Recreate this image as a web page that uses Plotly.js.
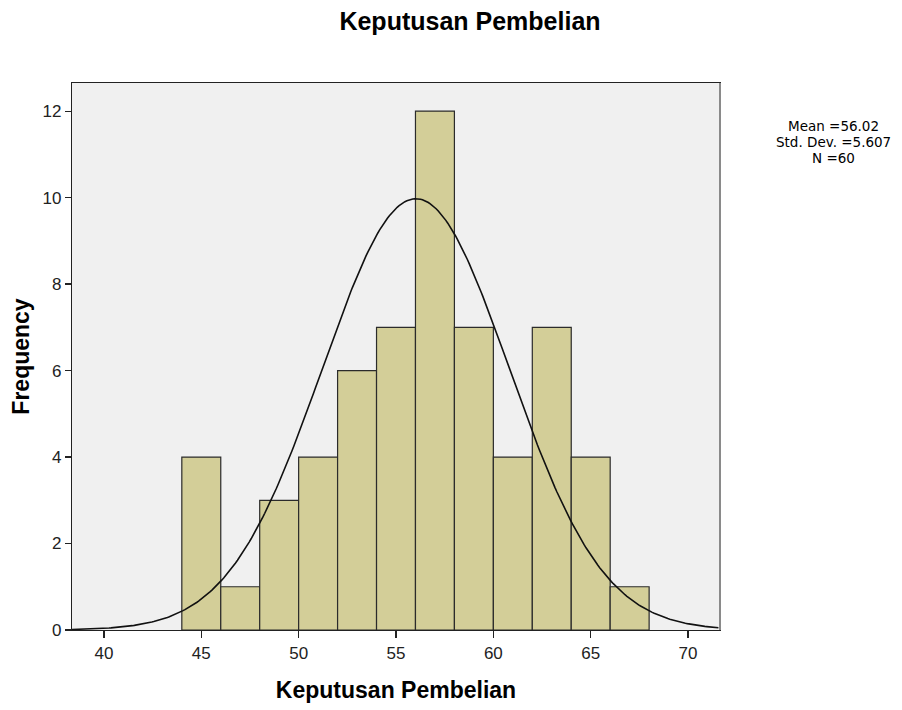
<!DOCTYPE html>
<html>
<head>
<meta charset="utf-8">
<script src="https://cdn.plot.ly/plotly-3.0.1.min.js"></script>
<style>html,body{margin:0;padding:0;background:#fff;}#chart{width:902px;height:710px;}</style>
</head>
<body>
<div id="chart"></div>
<script>
// Histogram bins (start of each bin, width 2) and frequencies
var binStarts = [44, 46, 48, 50, 52, 54, 56, 58, 60, 62, 64, 66];
var counts    = [4, 1, 3, 4, 6, 7, 12, 7, 4, 7, 4, 1];
var binWidth = 2;
// Statistics printed beside the chart
var statMean = 56.02;
var statSd = 5.607;
var statN = 60;
// Normal curve as drawn in the reference (peak ~10 at the mean)
var curveMean = 56.02;
var curveSd = 4.8;
var xTicks = [40, 45, 50, 55, 60, 65, 70];
var yTicks = [0, 2, 4, 6, 8, 10, 12];

var barX = binStarts.map(function (s) { return s + binWidth / 2; });

var curveX = [], curveY = [];
for (var x = 38.36; x <= 71.64; x += 0.1) {
  curveX.push(x);
  var z = (x - curveMean) / curveSd;
  curveY.push(statN * binWidth * Math.exp(-0.5 * z * z) / (curveSd * Math.sqrt(2 * Math.PI)));
}

var font = "Arial, 'Liberation Sans', sans-serif";
var statFont = "'DejaVu Sans', Arial, sans-serif";

var traces = [
  {
    type: 'bar', x: barX, y: counts, width: binWidth,
    marker: { color: '#D3CE98', line: { color: '#2b2b2b', width: 1.2 } },
    hoverinfo: 'x+y'
  },
  {
    type: 'scatter', mode: 'lines', x: curveX, y: curveY,
    line: { color: '#111111', width: 1.6 }, hoverinfo: 'skip'
  }
];

var plotW = 902 - 72 - 182, plotH = 710 - 83 - 80;

var statLines = [
  'Mean =' + statMean.toFixed(2),
  'Std. Dev. =' + statSd.toFixed(3),
  'N =' + statN
];
var statY = [126, 142, 158];
var annotations = statLines.map(function (t, i) {
  return {
    xref: 'paper', yref: 'paper',
    x: (834 - 72) / plotW, y: 1 - (statY[i] - 83) / plotH,
    text: t, showarrow: false, xanchor: 'center', yanchor: 'middle',
    borderpad: 0,
    font: { family: statFont, size: 13.5, color: '#000' }
  };
});

var layout = {
  width: 902, height: 710,
  margin: { l: 72, r: 182, t: 83, b: 80 },
  paper_bgcolor: '#ffffff',
  plot_bgcolor: '#F0F0F0',
  showlegend: false,
  bargap: 0,
  font: { family: font, color: '#000', size: 16 },
  title: {
    text: '<b>Keputusan Pembelian</b>',
    font: { family: font, size: 25, color: '#000' },
    x: 470 / 902, xref: 'container', xanchor: 'center',
    y: 1 - 21 / 710, yref: 'container', yanchor: 'middle'
  },
  xaxis: {
    range: [38.36, 71.64], tickvals: xTicks, ticktext: xTicks.map(String),
    ticks: 'outside', ticklen: 7, tickwidth: 1.2, tickcolor: '#222',
    showline: true, linecolor: '#222', linewidth: 1.2, mirror: true,
    showgrid: false, zeroline: false,
    tickfont: { family: font, size: 17, color: '#222' },
    title: { text: '<b>Keputusan Pembelian</b>', font: { family: font, size: 23, color: '#000' }, standoff: 20 }
  },
  yaxis: {
    range: [0, 12.65], tickvals: yTicks, ticktext: yTicks.map(String),
    ticks: 'outside', ticklen: 6, tickwidth: 1.2, tickcolor: '#222',
    showline: true, linecolor: '#222', linewidth: 1.2, mirror: true,
    showgrid: false, zeroline: false,
    tickfont: { family: font, size: 17, color: '#222' },
    title: { text: '<b>Frequency</b>', font: { family: font, size: 23, color: '#000' }, standoff: 6 }
  },
  shapes: [
    { type: 'line', xref: 'paper', yref: 'paper', x0: 1, x1: 1, y0: 0, y1: 1,
      line: { color: '#8a8a8a', width: 2 } }
  ],
  annotations: annotations
};

Plotly.newPlot('chart', traces, layout, { displayModeBar: false, staticPlot: true });
</script>
</body>
</html>
